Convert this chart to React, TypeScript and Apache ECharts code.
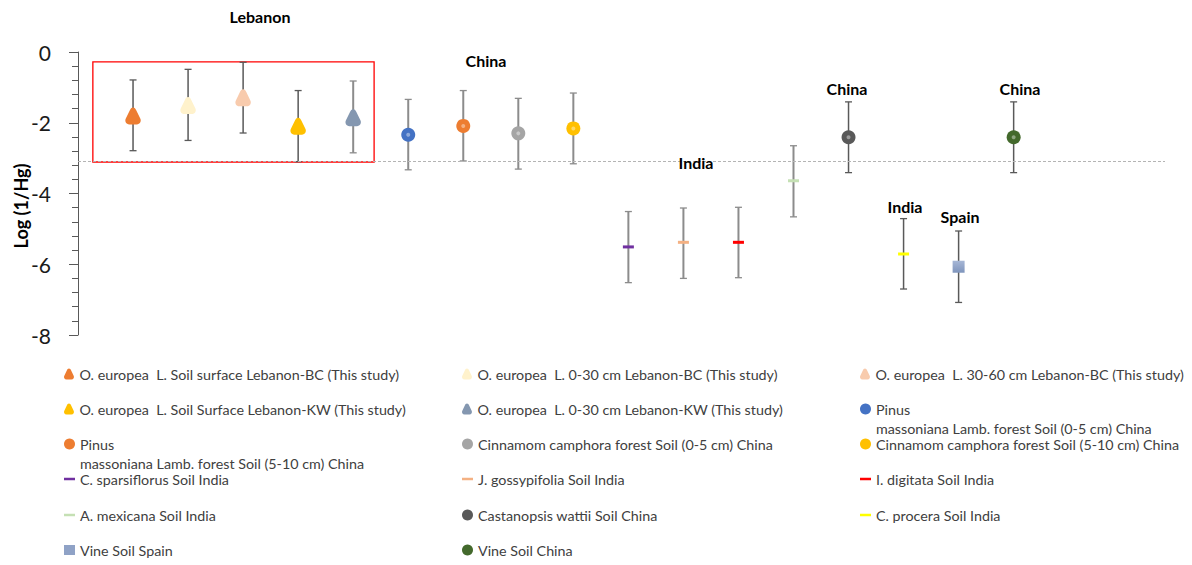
import React, { useEffect, useRef } from "react";
import * as echarts from "echarts";

// ---------- data ----------
const seriesNames = [
  "O. europea  L. Soil surface Lebanon-BC (This study)",
  "O. europea  L. 0-30 cm Lebanon-BC (This study)",
  "O. europea  L. 30-60 cm Lebanon-BC (This study)",
  "O. europea  L. Soil Surface Lebanon-KW (This study)",
  "O. europea  L. 0-30 cm Lebanon-KW (This study)",
  "Pinus\nmassoniana Lamb. forest Soil (0-5 cm) China",
  "Pinus\nmassoniana Lamb. forest Soil (5-10 cm) China",
  "Cinnamom camphora forest Soil (0-5 cm) China",
  "Cinnamom camphora forest Soil (5-10 cm) China",
  "C. sparsiflorus Soil India",
  "J. gossypifolia Soil India",
  "I. digitata Soil India",
  "A. mexicana Soil India",
  "Castanopsis wattii Soil China",
  "C. procera Soil India",
  "Vine Soil Spain",
  "Vine Soil China",
];
const xPositions = [1, 2, 3, 4, 5, 6, 7, 8, 9, 10, 11, 12, 13, 14, 15, 16, 17];
const means = [-1.82, -1.53, -1.31, -2.11, -1.87, -2.34, -2.09, -2.3, -2.16, -5.51, -5.38, -5.38, -3.64, -2.41, -5.71, -6.07, -2.41];
const upper = [-0.79, -0.49, -0.29, -1.09, -0.82, -1.34, -1.09, -1.31, -1.16, -4.51, -4.41, -4.39, -2.65, -1.41, -4.71, -5.06, -1.41];
const lower = [-2.79, -2.5, -2.29, -3.1, -2.85, -3.33, -3.08, -3.31, -3.16, -6.52, -6.4, -6.38, -4.66, -3.41, -6.7, -7.08, -3.41];
const markerShapes = ["tri", "tri", "tri", "tri", "tri", "circ", "circ", "circ", "circ", "dash", "dash", "dash", "dash", "circ", "dash", "sq", "circ"];
const markerColors = ["#ED7D31", "#FFF2CC", "#F8CBAD", "#FFC000", "#8497B0", "#4472C4", "#ED7D31", "#A5A5A5", "#FFC000", "#7030A0", "#F4B183", "#FF0000", "#C5E0B4", "#595959", "#FFFF00", "#8FA2C6", "#43692C"];
const errorColors = ["#595959", "#595959", "#595959", "#595959", "#8C8C8C", "#8C8C8C", "#8C8C8C", "#8C8C8C", "#8C8C8C", "#8C8C8C", "#8C8C8C", "#8C8C8C", "#8C8C8C", "#595959", "#595959", "#595959", "#595959"];
const thresholdValue = -3.08;
const boxFrom = [0.27, -0.28];
const boxTo = [5.38, -3.11];
const regionLabels = ["Lebanon", "China", "India", "China", "China", "India", "Spain"];
const yAxisTitle = "Log (1/Hg)";

// ---------- layout ----------
const FONT = "Lato, 'Open Sans', sans-serif";
const LEGEND_FONT_SIZE = 14.3;
const regionLabelPos = [
  [260, 16],
  [486, 60],
  [696, 162],
  [847, 88],
  [1020, 88],
  [905, 206],
  [960, 216],
];
const legendColX = [64, 462, 860];
const legendRowY = [374, 409, 444, 479, 515, 550];
const legendSecondLineGap = 19;

const TRI_PATH =
  "M7.5 0 C9 0 9.8 1.2 10.5 2.6 L14.3 10.5 C15.6 13.2 14 16 11 16 L4 16 C1 16 -0.6 13.2 0.7 10.5 L4.5 2.6 C5.2 1.2 6 0 7.5 0 Z";

function legendIcon(shape: string) {
  if (shape === "tri") return "path://" + TRI_PATH;
  if (shape === "circ") return "circle";
  return "rect";
}

function makeRender(i: number) {
  return (params: any, api: any) => {
    const x = api.value(0);
    const [cx, cy] = api.coord([x, api.value(1)]);
    const top = api.coord([x, api.value(2)])[1];
    const bot = api.coord([x, api.value(3)])[1];
    const ec = errorColors[i];
    const lw = ec === "#595959" ? 1.5 : 2;
    const children: any[] = [
      { type: "line", shape: { x1: cx, y1: top, x2: cx, y2: bot }, style: { stroke: ec, lineWidth: lw } },
      { type: "line", shape: { x1: cx - 3.5, y1: top, x2: cx + 3.5, y2: top }, style: { stroke: ec, lineWidth: 1.3 } },
      { type: "line", shape: { x1: cx - 3.5, y1: bot, x2: cx + 3.5, y2: bot }, style: { stroke: ec, lineWidth: 1.3 } },
    ];
    const col = markerColors[i];
    const shape = markerShapes[i];
    if (shape === "tri") {
      children.push({
        type: "path",
        shape: { pathData: TRI_PATH, x: cx - 8, y: cy - 9, width: 16, height: 17 },
        style: { fill: col },
      });
    } else if (shape === "circ") {
      children.push({ type: "circle", shape: { cx, cy, r: 7 }, style: { fill: col } });
      children.push({ type: "circle", shape: { cx, cy, r: 2 }, style: { fill: "rgba(255,255,255,0.4)" } });
    } else if (shape === "dash") {
      children.push({ type: "rect", shape: { x: cx - 5.5, y: cy - 1.5, width: 11, height: 3 }, style: { fill: col } });
    } else {
      children.push({
        type: "rect",
        shape: { x: cx - 6, y: cy - 6, width: 12, height: 12 },
        style: {
          fill: new echarts.graphic.LinearGradient(0, 0, 0, 1, [
            { offset: 0, color: "#A7B7D6" },
            { offset: 1, color: "#7E94BC" },
          ]),
        },
      });
    }
    return { type: "group", children };
  };
}

export default function App() {
  const ref = useRef<HTMLDivElement>(null);
  useEffect(() => {
    if (!ref.current) return;
    const chart = echarts.init(ref.current, undefined, { renderer: "svg" });

    const series: any[] = seriesNames.map((name, i) => {
      const s: any = {
        type: "custom",
        name,
        renderItem: makeRender(i),
        itemStyle: { color: markerColors[i] },
        encode: { x: 0, y: [1, 2, 3] },
        data: [[xPositions[i], means[i], upper[i], lower[i]]],
        z: 3,
        silent: true,
      };
      if (i === 0) {
        s.markLine = {
          silent: true,
          symbol: "none",
          label: { show: false },
          lineStyle: { type: [3, 2], color: "#B4B4B4", width: 1 },
          data: [{ yAxis: thresholdValue }],
        };
        s.markArea = {
          silent: true,
          itemStyle: { color: "rgba(0,0,0,0)", borderColor: "#FF0000", borderWidth: 1.3 },
          data: [[{ xAxis: boxFrom[0], yAxis: boxFrom[1] }, { xAxis: boxTo[0], yAxis: boxTo[1] }]],
        };
      }
      return s;
    });

    const legends = seriesNames.map((name, i) => {
      const row = Math.floor(i / 3);
      const col = i % 3;
      const shape = markerShapes[i];
      const iw = 11;
      const ih = shape === "dash" ? 2.5 : shape === "sq" ? 10 : 11;
      return {
        left: legendColX[col],
        top: legendRowY[row] - 9.5,
        orient: "horizontal",
        padding: 0,
        itemGap: 0,
        selectedMode: false,
        itemWidth: iw,
        itemHeight: ih,
        formatter: (n: string) => n.split("\n")[0],
        data: [{ name, icon: legendIcon(shape) }],
        textStyle: { fontFamily: FONT, fontSize: LEGEND_FONT_SIZE, color: "#404040", lineHeight: 19 },
      };
    });

    // second lines of two-line legend entries
    const legendSecondLines: any[] = [];
    seriesNames.forEach((name, i) => {
      const parts = name.split("\n");
      if (parts.length > 1) {
        const row = Math.floor(i / 3);
        const col = i % 3;
        legendSecondLines.push({
          type: "text",
          x: legendColX[col] + 16,
          y: legendRowY[row] + legendSecondLineGap,
          style: {
            text: parts[1],
            fontFamily: FONT,
            fontSize: LEGEND_FONT_SIZE,
            fill: "#404040",
            align: "left",
            verticalAlign: "middle",
          },
        });
      }
    });

    const option: any = {
      animation: false,
      backgroundColor: "#ffffff",
      grid: { left: 78, top: 52, width: 1087, height: 283, containLabel: false },
      xAxis: { type: "value", min: 0, max: 19.75, show: false },
      yAxis: {
        type: "value",
        min: -8,
        max: 0,
        interval: 2,
        axisLine: { show: true, lineStyle: { color: "#595959", width: 1 } },
        axisTick: { show: true, length: 9, lineStyle: { color: "#595959" } },
        minorTick: { show: true, splitNumber: 5, length: 6, lineStyle: { color: "#595959" } },
        splitLine: { show: false },
        minorSplitLine: { show: false },
        axisLabel: { fontFamily: FONT, fontSize: 21, color: "#1a1a1a", margin: 27 },
      },
      legend: legends,
      graphic: [
        ...regionLabels.map((t, i) => ({
          type: "text",
          x: regionLabelPos[i][0],
          y: regionLabelPos[i][1],
          style: {
            text: t,
            fontFamily: FONT,
            fontSize: 16,
            fontWeight: "bold",
            fill: "#000",
            align: "center",
            verticalAlign: "middle",
          },
          z: 10,
        })),
        {
          type: "text",
          x: 21,
          y: 206,
          rotation: Math.PI / 2,
          style: {
            text: yAxisTitle,
            fontFamily: FONT,
            fontSize: 18,
            fontWeight: "bold",
            fill: "#000",
            align: "center",
            verticalAlign: "middle",
          },
        },
        ...legendSecondLines,
      ],
      series,
    };
    chart.setOption(option);
    return () => chart.dispose();
  }, []);
  return (
    <div
      ref={ref}
      style={{ position: "absolute", left: 0, top: 0, width: 1192, height: 565, background: "#fff" }}
    />
  );
}
